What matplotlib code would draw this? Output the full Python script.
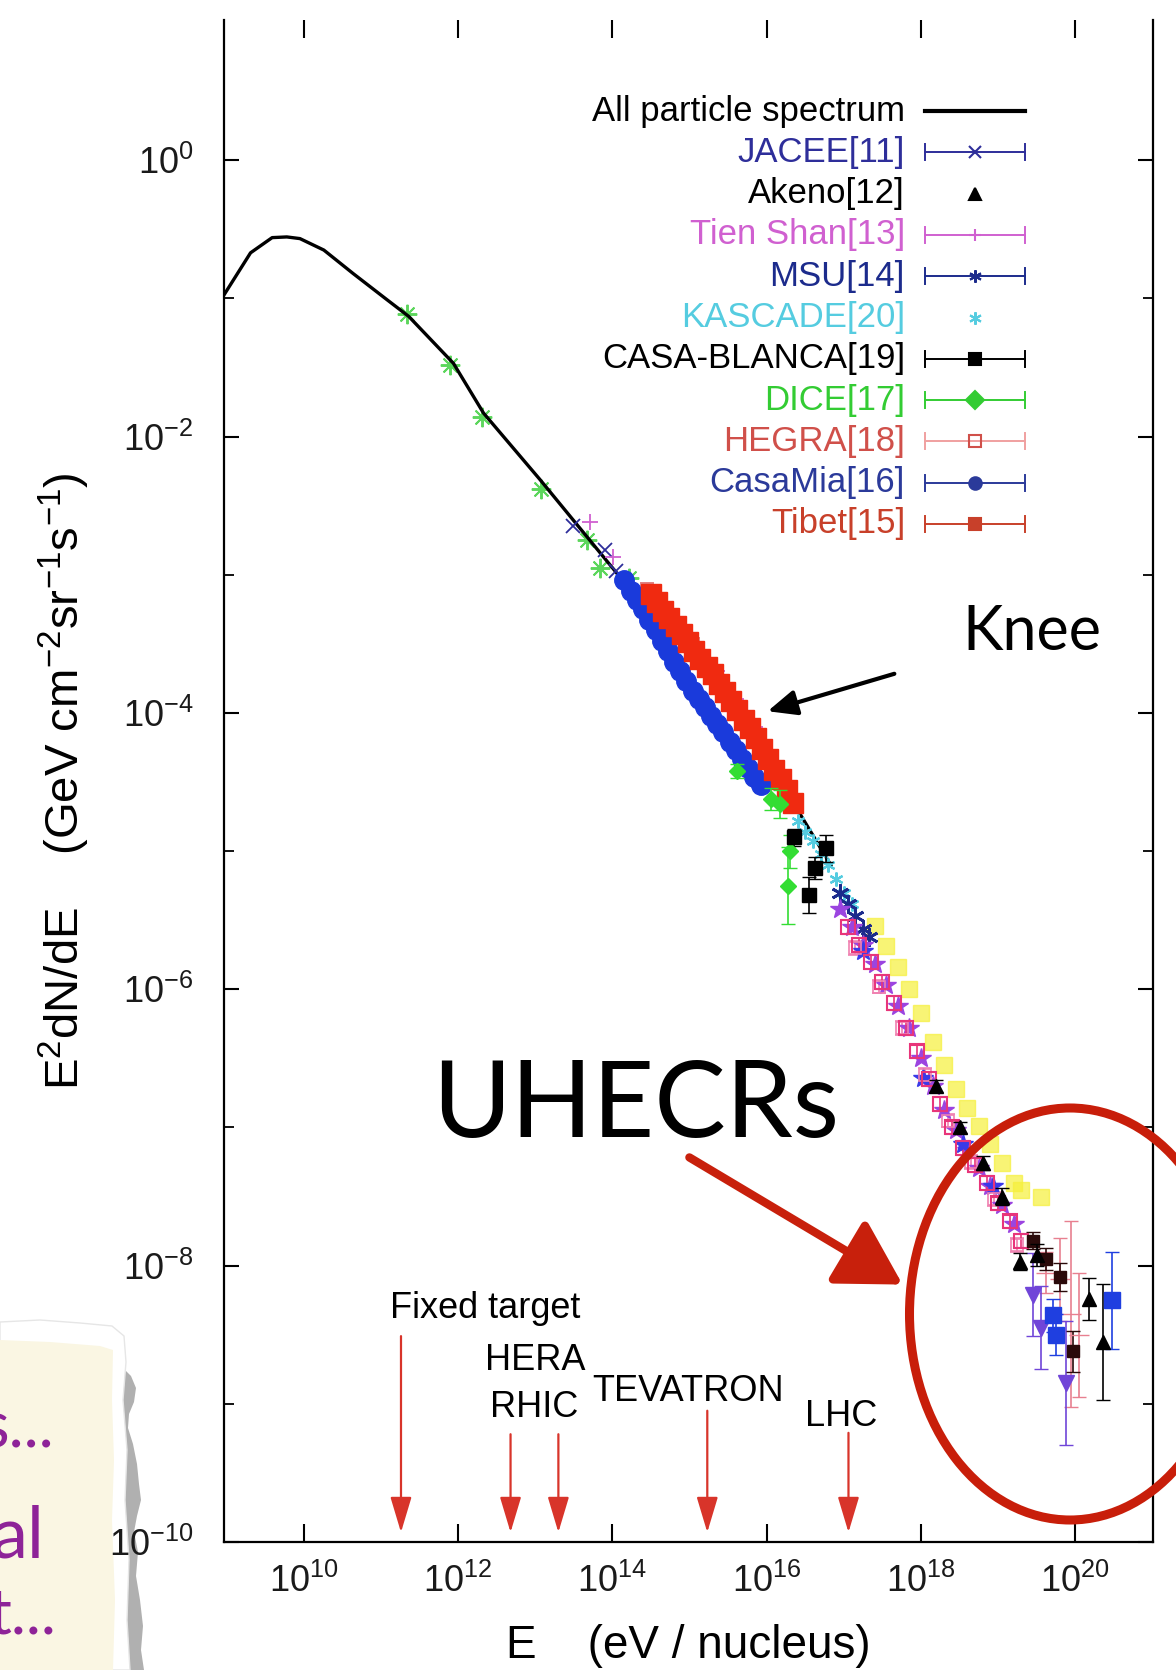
import numpy as np
import matplotlib
matplotlib.use("Agg")
import matplotlib.pyplot as plt
from matplotlib.patches import Ellipse, Polygon, FancyArrowPatch
from matplotlib.ticker import FixedLocator, NullFormatter, LogFormatterMathtext

GRAPH_FONT = ["Liberation Sans", "DejaVu Sans"]
SLIDE_FONT = ["Lato", "Open Sans", "DejaVu Sans"]

plt.rcParams["font.family"] = GRAPH_FONT
plt.rcParams["mathtext.fontset"] = "custom"
plt.rcParams["mathtext.rm"] = "Liberation Sans"
plt.rcParams["mathtext.it"] = "Liberation Sans:italic"
plt.rcParams["mathtext.bf"] = "Liberation Sans:bold"
plt.rcParams["mathtext.default"] = "regular"

# all values below: log10(E / eV) and log10(E^2 dN/dE)
spec_logE = [8.96, 9.31, 9.59, 9.78, 9.95, 10.26, 10.64, 11.08, 11.36, 11.94,
             12.33, 13.06, 14.06, 15.03, 16.00, 16.83]
spec_logF = [-0.98, -0.67, -0.56, -0.555, -0.567, -0.65, -0.82, -1.01, -1.13,
             -1.47, -1.83, -2.31, -2.99, -3.60, -4.33, -5.10]

# direct measurements below the knee
green_logE = [11.34, 11.90, 12.31, 13.08, 13.67, 13.84, 14.22]
green_logF = [-1.11, -1.48, -1.86, -2.38, -2.75, -2.95, -3.02]

jacee_logE = [13.49, 13.90, 14.05]
jacee_logF = [-2.65, -2.82, -2.97]

tienshan_logE = [13.71, 14.01, 15.10, 15.35, 15.60, 15.85]
tienshan_logF = [-2.62, -2.87, -3.52, -3.70, -3.90, -4.10]

hegra_logE = [14.45, 14.75, 15.05]
hegra_logF = [-3.10, -3.30, -3.50]

casamia_logE = [14.15, 14.24, 14.32, 14.40, 14.48, 14.56, 14.64, 14.72, 14.80,
                14.88, 14.96, 15.04, 15.12, 15.20, 15.28, 15.36, 15.44, 15.52,
                15.60, 15.68, 15.76, 15.84, 15.92]
casamia_logF = [-3.04, -3.12, -3.18, -3.25, -3.33, -3.40, -3.48, -3.55, -3.63,
                -3.70, -3.77, -3.84, -3.90, -3.96, -4.02, -4.08, -4.14, -4.21,
                -4.27, -4.33, -4.40, -4.46, -4.52]

tibet_logE = [14.50, 14.58, 14.66, 14.74, 14.82, 14.90, 14.98, 15.06, 15.14,
              15.22, 15.30, 15.38, 15.46, 15.54, 15.62, 15.70, 15.78, 15.86,
              15.94, 16.02, 16.10, 16.18, 16.26, 16.34]
tibet_logF = [-3.14, -3.20, -3.26, -3.31, -3.37, -3.43, -3.49, -3.55, -3.61,
              -3.67, -3.72, -3.79, -3.85, -3.91, -3.98, -4.05, -4.11, -4.18,
              -4.26, -4.33, -4.41, -4.48, -4.56, -4.65]

dice_logE = [15.62, 16.05, 16.17, 16.30, 16.28]
dice_logF = [-4.42, -4.62, -4.66, -5.00, -5.25]
dice_err = [0.05, 0.08, 0.10, 0.12, 0.28]

casab_logE = [16.35, 16.55, 16.62, 16.77]
casab_logF = [-4.90, -5.32, -5.12, -4.98]
casab_err = [0.06, 0.13, 0.08, 0.10]

kascade_logE = [16.40, 16.50, 16.60, 16.70, 16.80, 16.90, 17.00, 17.10]
kascade_logF = [-4.78, -4.86, -4.93, -5.02, -5.10, -5.20, -5.30, -5.38]

msu_logE = [16.95, 17.05, 17.15, 17.25, 17.32]
msu_logF = [-5.30, -5.38, -5.47, -5.56, -5.62]

# air-shower data above 1e17 eV
violet_logE = [16.95, 17.10, 17.25, 17.40, 17.55, 17.70, 17.85, 18.00, 18.15,
               18.30, 18.45, 18.60, 18.75, 18.90, 19.05, 19.20]
violet_logF = [-5.42, -5.55, -5.68, -5.82, -5.97, -6.12, -6.28, -6.50, -6.70,
               -6.87, -7.02, -7.16, -7.29, -7.42, -7.56, -7.70]

magenta_logE = [17.05, 17.20, 17.35, 17.50, 17.65, 17.80, 17.95, 18.10, 18.25,
                18.40, 18.55, 18.70, 18.85, 19.00, 19.15, 19.30]
magenta_logF = [-5.55, -5.68, -5.80, -5.95, -6.10, -6.28, -6.45, -6.65, -6.83,
                -7.00, -7.15, -7.27, -7.40, -7.55, -7.68, -7.82]

pink_logE = [17.15, 17.45, 17.75, 18.05, 18.35, 18.65, 18.95, 19.25]
pink_logF = [-5.70, -5.98, -6.28, -6.62, -6.95, -7.25, -7.52, -7.85]

blue_logE = [17.25, 18.03, 18.55, 18.93]
blue_logF = [-5.72, -6.64, -7.12, -7.42]

yellow_logE = [17.40, 17.55, 17.70, 17.85, 18.00, 18.15, 18.30, 18.45, 18.60,
               18.75, 18.90, 19.05, 19.20, 19.30, 19.55]
yellow_logF = [-5.54, -5.69, -5.84, -6.00, -6.17, -6.38, -6.55, -6.72, -6.86,
               -6.99, -7.12, -7.26, -7.40, -7.45, -7.50]

akeno_logE = [18.20, 18.50, 18.80, 19.05, 19.28, 19.50, 20.18, 20.36]
akeno_logF = [-6.70, -7.00, -7.26, -7.50, -7.97, -7.92, -8.24, -8.55]
akeno_err = [0.04, 0.04, 0.05, 0.06, 0.06, 0.08, 0.15, 0.42]

uhe_blue_logE = [19.71, 19.75, 20.48]
uhe_blue_logF = [-8.36, -8.50, -8.25]
uhe_blue_err = [0.12, 0.15, 0.35]

uhe_pink_logE = [19.62, 19.80, 19.95, 20.05]
uhe_pink_logF = [-8.05, -8.10, -8.35, -8.50]
uhe_pink_err = [0.15, 0.30, 0.67, 0.45]

uhe_violet_logE = [19.45, 19.55, 19.88]
uhe_violet_logF = [-8.21, -8.45, -8.85]
uhe_violet_err = [0.30, 0.30, 0.45]

uhe_black_logE = [19.45, 19.62, 19.80, 19.97]
uhe_black_logF = [-7.82, -7.95, -8.08, -8.62]
uhe_black_err = [0.06, 0.08, 0.10, 0.15]

# accelerator energies (fixed-target equivalent)
collider_names = ["Fixed target", "HERA", "RHIC", "TEVATRON", "LHC"]
collider_logE = [11.26, 12.68, 13.30, 15.23, 17.06]
collider_top = [-8.51, -9.22, -9.22, -9.05, -9.21]
label_logE = [12.35, 13.00, 12.98, 14.98, 16.96]
label_logF = [-8.31, -8.69, -9.03, -8.91, -9.09]

legend_labels = ["All particle spectrum", "JACEE[11]", "Akeno[12]",
                 "Tien Shan[13]", "MSU[14]", "KASCADE[20]", "CASA-BLANCA[19]",
                 "DICE[17]", "HEGRA[18]", "CasaMia[16]", "Tibet[15]"]
legend_colors = ["black", "#2E2E9A", "black", "#D060D0", "#1C2B8C", "#55CCE0",
                 "black", "#33CC33", "#D0504A", "#2B3A9A", "#C8402A"]

W, H = 1176, 1670
AX_L, AX_R, AX_T, AX_B = 224, 1153, 20, 1542

fig = plt.figure(figsize=(W / 100, H / 100), dpi=100)
fig.patch.set_facecolor("white")


def pts(loge, logf):
    return 10.0 ** np.asarray(loge), 10.0 ** np.asarray(logf)


def bars(logf, err):
    lf = np.asarray(logf)
    d = np.asarray(err)
    f = 10.0 ** lf
    return [f - 10.0 ** (lf - d), 10.0 ** (lf + d) - f]


def draw(ax, loge, logf, err=None, z=3, **kw):
    e, f = pts(loge, logf)
    if err is None:
        ax.plot(e, f, ls="none", zorder=z, **kw)
    else:
        ax.errorbar(e, f, yerr=bars(logf, err), ls="none", zorder=z,
                    elinewidth=1.2, capsize=5, **kw)


# slide background: torn note paper at the bottom left
bg = fig.add_axes([0, 0, 1, 1], zorder=0)
bg.set_xlim(0, W)
bg.set_ylim(H, 0)
bg.axis("off")
shadow = [(120, 1365), (131, 1376), (136, 1388), (134, 1402), (129, 1414),
          (128, 1428), (133, 1444), (137, 1464), (139, 1484), (141, 1500),
          (137, 1516), (134, 1532), (138, 1552), (136, 1576), (140, 1600),
          (143, 1626), (141, 1650), (144, 1670), (120, 1670)]
paper = [(0, 1322), (40, 1320), (80, 1323), (112, 1326), (124, 1336),
         (126, 1362), (123, 1400), (127, 1450), (125, 1500), (129, 1560),
         (127, 1620), (130, 1670), (0, 1670)]
cream = [(0, 1340), (50, 1342), (100, 1346), (113, 1350), (112, 1400),
         (114, 1460), (112, 1520), (115, 1600), (113, 1670), (0, 1670)]
bg.add_patch(Polygon(shadow, closed=True, fc="#B0B0B0", ec="none"))
bg.add_patch(Polygon(paper, closed=True, fc="white", ec="#E6E6E6", lw=1))
bg.add_patch(Polygon(cream, closed=True, fc="#FAF6E3", ec="none"))
purple = "#8E2398"
bg.text(54, 1447, "s...", ha="right", va="baseline", fontsize=46,
        color=purple, family=SLIDE_FONT)
bg.text(44, 1558, "al", ha="right", va="baseline", fontsize=52,
        color=purple, family=SLIDE_FONT)
bg.text(57, 1633, "t...", ha="right", va="baseline", fontsize=46,
        color=purple, family=SLIDE_FONT)

# spectrum plot
ax = fig.add_axes([AX_L / W, 1 - AX_B / H, (AX_R - AX_L) / W, (AX_B - AX_T) / H],
                  zorder=1)
ax.set_xscale("log")
ax.set_yscale("log")
ax.set_xlim(10 ** 8.966, 10 ** 21.007)
ax.set_ylim(1e-10, 10 ** 1.015)

e, f = pts(spec_logE, spec_logF)
ax.plot(e, f, color="black", lw=2.4, zorder=2)

draw(ax, green_logE, green_logF, z=1, marker=(8, 2, 0), ms=14, mew=1.4,
     color="#5CD65C")
draw(ax, jacee_logE, jacee_logF, marker="x", ms=10, mew=1.3, color="#2E2E9A")
draw(ax, tienshan_logE, tienshan_logF, marker="+", ms=12, mew=1.3,
     color="#D060D0")
draw(ax, hegra_logE, hegra_logF, [0.04, 0.04, 0.04], marker="s", ms=9,
     mfc="none", mew=1.2, color="#E08080")
draw(ax, casamia_logE, casamia_logF, [0.05] * len(casamia_logE), marker="o",
     ms=14, color="#1A3ADB")
draw(ax, tibet_logE, tibet_logF, [0.05] * len(tibet_logE), marker="s", ms=14,
     color="#F02A10")
draw(ax, dice_logE, dice_logF, dice_err, z=4, marker="D", ms=8,
     color="#33DD33")
draw(ax, kascade_logE, kascade_logF, marker=(6, 2, 0), ms=10, mew=1.6,
     color="#55CCE0")
draw(ax, casab_logE, casab_logF, casab_err, z=4, marker="s", ms=10,
     color="black")
draw(ax, msu_logE, msu_logF, marker=(6, 2, 0), ms=13, mew=2,
     color="#1C2B8C")

draw(ax, yellow_logE, yellow_logF, marker="s", ms=11, color="#F6F03A",
     alpha=0.7, z=2)
draw(ax, pink_logE, pink_logF, [0.05] * 8, marker="s", ms=9, mfc="none",
     mew=1.2, color="#F080B0")
draw(ax, violet_logE, violet_logF, marker="*", ms=15, color="#9B44E0")
draw(ax, magenta_logE, magenta_logF, [0.05] * 16, marker="s", ms=10,
     mfc="none", mew=1.5, color="#E8357A")
draw(ax, blue_logE, blue_logF, marker="*", ms=15, color="#3A3AE8")
draw(ax, akeno_logE, akeno_logF, akeno_err, z=4, marker="^", ms=10,
     color="black")
draw(ax, uhe_pink_logE, uhe_pink_logF, uhe_pink_err, marker="_", ms=14,
     color="#E88090")
draw(ax, uhe_violet_logE, uhe_violet_logF, uhe_violet_err, marker="v",
     ms=11, color="#7045D8")
draw(ax, uhe_black_logE, uhe_black_logF, uhe_black_err, marker="s", ms=9,
     color="#2A0A0A")
draw(ax, uhe_blue_logE, uhe_blue_logF, uhe_blue_err, z=4, marker="s", ms=11,
     color="#1F3FE0")

# accelerator arrows
for name, le, top, tx, ty in zip(collider_names, collider_logE, collider_top,
                                 label_logE, label_logF):
    ax.annotate("", xy=(10 ** le, 10 ** -9.93), xytext=(10 ** le, 10 ** top),
                arrowprops=dict(arrowstyle="-|>,head_length=1.0,head_width=0.3",
                                color="#D8342A", lw=1.6, mutation_scale=22,
                                shrinkA=0, shrinkB=0), zorder=5)
    ax.text(10 ** tx, 10 ** ty, name, ha="center", va="center", fontsize=26,
            color="black", zorder=5)

# axes and ticks
ax.spines["top"].set_visible(False)
for s in ("left", "right", "bottom"):
    ax.spines[s].set_linewidth(1.6)
ax.xaxis.set_major_locator(FixedLocator([10.0 ** k for k in range(10, 21, 2)]))
ax.xaxis.set_minor_locator(FixedLocator([]))
ax.xaxis.set_major_formatter(LogFormatterMathtext())
ax.yaxis.set_major_locator(FixedLocator([10.0 ** k for k in range(-10, 1, 2)]))
ax.yaxis.set_minor_locator(FixedLocator([10.0 ** k for k in range(-9, 1, 2)]))
ax.yaxis.set_major_formatter(LogFormatterMathtext())
ax.yaxis.set_minor_formatter(NullFormatter())
ax.tick_params(axis="x", which="major", direction="in", length=13, width=1.5,
               top=True, labelsize=26, pad=16, labelcolor="#1A1A1A")
ax.tick_params(axis="y", which="major", direction="in", length=11, width=1.5,
               right=True, labelsize=26, pad=22, labelcolor="#1A1A1A")
ax.tick_params(axis="y", which="minor", direction="in", length=7, width=1.3,
               right=True)
for t in ax.xaxis.get_major_ticks():
    if t.get_loc() in (1e14, 1e16):
        t.tick1line.set_visible(False)
        t.tick2line.set_visible(False)

ax.set_xlabel("E    (eV / nucleus)", fontsize=33)
ax.xaxis.set_label_coords(0.5, -(1646 - AX_B) / (AX_B - AX_T))
ax.xaxis.label.set_va("center")
ax.set_ylabel(r"E$^{2}$dN/dE    (GeV cm$^{-2}$sr$^{-1}$s$^{-1}$)", fontsize=34)
ax.yaxis.set_label_coords(-(AX_L - 64) / (AX_R - AX_L), 0.5)
ax.yaxis.label.set_va("center")


# legend, text on the left and sample on the right
def ax_frac(px, py):
    return (px - AX_L) / (AX_R - AX_L), 1 - (py - AX_T) / (AX_B - AX_T)


leg_markers = [None, "x", "^", "+", (6, 2, 0), (6, 2, 0), "s", "D", "s", "o", "s"]
leg_bars = [False, True, False, True, True, False, True, True, True, True, True]
for i, (lab, col) in enumerate(zip(legend_labels, legend_colors)):
    py = 111 + 41.3 * i
    tx, ty = ax_frac(905, py)
    ax.text(tx, ty, lab, transform=ax.transAxes, ha="right", va="center",
            fontsize=25, color=col, zorder=6)
    x0, _ = ax_frac(925, py)
    x1, _ = ax_frac(1025, py)
    xm, _ = ax_frac(975, py)
    if i == 0:
        ax.plot([x0, x1], [ty, ty], transform=ax.transAxes, color="black",
                lw=3, zorder=6)
        continue
    lcol = "#F0A0A0" if lab.startswith("HEGRA") else col
    if leg_bars[i]:
        ax.plot([x0, x1], [ty, ty], transform=ax.transAxes, color=lcol,
                lw=1.4, zorder=6)
        cap = 8 / (AX_B - AX_T)
        for xc in (x0, x1):
            ax.plot([xc, xc], [ty - cap, ty + cap], transform=ax.transAxes,
                    color=lcol, lw=1.4, zorder=6)
    mfc = "none" if lab.startswith("HEGRA") else col
    ax.plot([xm], [ty], transform=ax.transAxes, ls="none",
            marker=leg_markers[i], ms=9, mew=1.5, color=col, mfc=mfc,
            zorder=7)

# slide annotations on top
ov = fig.add_axes([0, 0, 1, 1], zorder=3)
ov.set_xlim(0, W)
ov.set_ylim(H, 0)
ov.axis("off")
ov.text(1032, 633, "Knee", ha="center", va="center", fontsize=44,
        family=SLIDE_FONT, color="black")
ov.add_patch(FancyArrowPatch((897, 673), (765, 712),
                             arrowstyle="-|>,head_length=0.8,head_width=0.35",
                             mutation_scale=22, lw=3, color="black"))
ov.text(636, 1107, "UHECRs", ha="center", va="center", fontsize=77,
        family=SLIDE_FONT, color="black")
ov.add_patch(FancyArrowPatch((687, 1156), (905, 1286),
                             arrowstyle="-|>,head_length=1.3,head_width=0.75",
                             mutation_scale=30, lw=6, color="#C8200C"))
ov.add_patch(Ellipse((1070, 1314), 321, 412, fill=False, lw=6.5,
                     ec="#C81E0A"))

fig.savefig("out.png", dpi=100)
